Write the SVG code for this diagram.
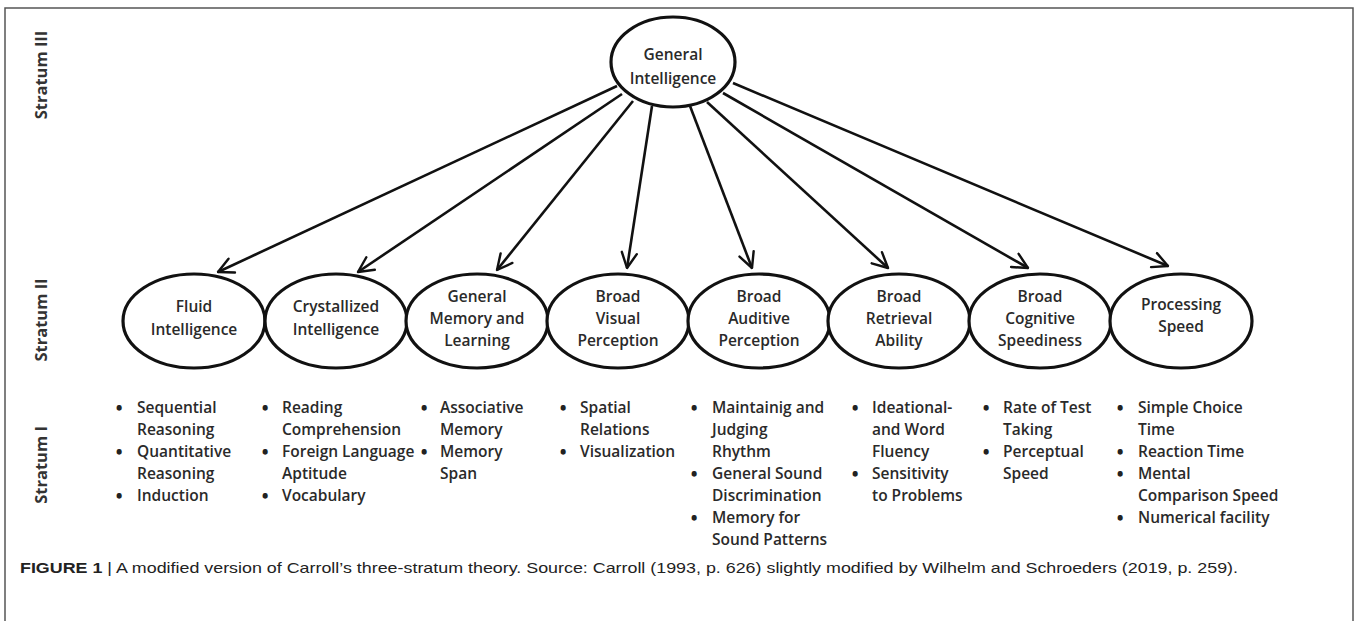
<svg xmlns="http://www.w3.org/2000/svg" width="1358" height="621" viewBox="0 0 1358 621">
<style>
.t{font-family:"Open Sans","Liberation Sans",sans-serif;font-size:15.5px;font-weight:600;fill:#2a2a2a;}
.c{text-anchor:middle;}
.b{font-family:"Open Sans","Liberation Sans",sans-serif;font-size:16px;font-weight:800;fill:#222;}
.lab{font-family:"Open Sans","Liberation Sans",sans-serif;font-size:16.5px;font-weight:700;fill:#333;text-anchor:middle;}
.node{fill:#fff;stroke:#111;stroke-width:3.2;}
.con{stroke:#111;stroke-width:2.6;fill:none;marker-end:url(#ah);}
.cap{font-family:"Liberation Sans",Arial,sans-serif;font-size:15px;fill:#222;}
</style>
<defs>
<marker id="ah" viewBox="0 0 12 12" refX="11" refY="6" markerWidth="7" markerHeight="7" markerUnits="strokeWidth" orient="auto">
<path d="M1,1 L11,6 L1,11" fill="none" stroke="#111" stroke-width="1.6" stroke-linecap="round" stroke-linejoin="round"/>
</marker>
</defs>
<rect width="1358" height="621" fill="#fff"/>
<rect x="5" y="8" width="1348" height="640" fill="none" stroke="#555" stroke-width="1.5"/>

<g id="stratum-labels">
<text class="lab" transform="translate(47,75) rotate(-90)">Stratum III</text>
<text class="lab" transform="translate(47,320) rotate(-90)">Stratum II</text>
<text class="lab" transform="translate(47,465) rotate(-90)">Stratum I</text>
</g>

<g id="connectors">
<line class="con" x1="617" y1="86" x2="218" y2="272"/>
<line class="con" x1="622" y1="94" x2="358" y2="272"/>
<line class="con" x1="633" y1="101" x2="497" y2="270"/>
<line class="con" x1="652" y1="106" x2="627" y2="268"/>
<line class="con" x1="690" y1="106" x2="752" y2="268"/>
<line class="con" x1="707" y1="102" x2="888" y2="268"/>
<line class="con" x1="723" y1="93" x2="1028" y2="268"/>
<line class="con" x1="733" y1="83" x2="1168" y2="266"/>
</g>

<g id="general-intelligence">
<ellipse class="node" cx="673" cy="62" rx="62" ry="45"/>
<text class="t c" x="673" y="60">General</text>
<text class="t c" x="673" y="84">Intelligence</text>
</g>

<g id="fluid">
<ellipse class="node" cx="194" cy="321" rx="71" ry="47"/>
<text class="t c" x="194" y="312">Fluid</text>
<text class="t c" x="194" y="335">Intelligence</text>
</g>
<g id="crystallized">
<ellipse class="node" cx="336" cy="321" rx="71" ry="47"/>
<text class="t c" x="336" y="312">Crystallized</text>
<text class="t c" x="336" y="335">Intelligence</text>
</g>
<g id="memory">
<ellipse class="node" cx="477" cy="321" rx="71" ry="47"/>
<text class="t c" x="477" y="302">General</text>
<text class="t c" x="477" y="324">Memory and</text>
<text class="t c" x="477" y="346">Learning</text>
</g>
<g id="visual">
<ellipse class="node" cx="618" cy="321" rx="71" ry="47"/>
<text class="t c" x="618" y="302">Broad</text>
<text class="t c" x="618" y="324">Visual</text>
<text class="t c" x="618" y="346">Perception</text>
</g>
<g id="auditive">
<ellipse class="node" cx="759" cy="321" rx="71" ry="47"/>
<text class="t c" x="759" y="302">Broad</text>
<text class="t c" x="759" y="324">Auditive</text>
<text class="t c" x="759" y="346">Perception</text>
</g>
<g id="retrieval">
<ellipse class="node" cx="899" cy="321" rx="71" ry="47"/>
<text class="t c" x="899" y="302">Broad</text>
<text class="t c" x="899" y="324">Retrieval</text>
<text class="t c" x="899" y="346">Ability</text>
</g>
<g id="cognitive">
<ellipse class="node" cx="1040" cy="321" rx="71" ry="47"/>
<text class="t c" x="1040" y="302">Broad</text>
<text class="t c" x="1040" y="324">Cognitive</text>
<text class="t c" x="1040" y="346">Speediness</text>
</g>
<g id="processing">
<ellipse class="node" cx="1181" cy="321" rx="71" ry="47"/>
<text class="t c" x="1181" y="310">Processing</text>
<text class="t c" x="1181" y="332">Speed</text>
</g>

<g id="stratum1-fluid">
<text class="b" x="116" y="414">•</text><text class="t" x="137" y="413">Sequential</text>
<text class="t" x="137" y="435">Reasoning</text>
<text class="b" x="116" y="458">•</text><text class="t" x="137" y="457">Quantitative</text>
<text class="t" x="137" y="479">Reasoning</text>
<text class="b" x="116" y="502">•</text><text class="t" x="137" y="501">Induction</text>
</g>
<g id="stratum1-crystallized">
<text class="b" x="262" y="414">•</text><text class="t" x="282" y="413">Reading</text>
<text class="t" x="282" y="435">Comprehension</text>
<text class="b" x="262" y="458">•</text><text class="t" x="282" y="457">Foreign Language</text>
<text class="t" x="282" y="479">Aptitude</text>
<text class="b" x="262" y="502">•</text><text class="t" x="282" y="501">Vocabulary</text>
</g>
<g id="stratum1-memory">
<text class="b" x="421" y="414">•</text><text class="t" x="440" y="413">Associative</text>
<text class="t" x="440" y="435">Memory</text>
<text class="b" x="421" y="458">•</text><text class="t" x="440" y="457">Memory</text>
<text class="t" x="440" y="479">Span</text>
</g>
<g id="stratum1-visual">
<text class="b" x="560" y="414">•</text><text class="t" x="580" y="413">Spatial</text>
<text class="t" x="580" y="435">Relations</text>
<text class="b" x="560" y="458">•</text><text class="t" x="580" y="457">Visualization</text>
</g>
<g id="stratum1-auditive">
<text class="b" x="691" y="414">•</text><text class="t" x="712" y="413">Maintainig and</text>
<text class="t" x="712" y="435">Judging</text>
<text class="t" x="712" y="457">Rhythm</text>
<text class="b" x="691" y="480">•</text><text class="t" x="712" y="479">General Sound</text>
<text class="t" x="712" y="501">Discrimination</text>
<text class="b" x="691" y="524">•</text><text class="t" x="712" y="523">Memory for</text>
<text class="t" x="712" y="545">Sound Patterns</text>
</g>
<g id="stratum1-retrieval">
<text class="b" x="852" y="414">•</text><text class="t" x="872" y="413">Ideational-</text>
<text class="t" x="872" y="435">and Word</text>
<text class="t" x="872" y="457">Fluency</text>
<text class="b" x="852" y="480">•</text><text class="t" x="872" y="479">Sensitivity</text>
<text class="t" x="872" y="501">to Problems</text>
</g>
<g id="stratum1-cognitive">
<text class="b" x="983" y="414">•</text><text class="t" x="1003" y="413">Rate of Test</text>
<text class="t" x="1003" y="435">Taking</text>
<text class="b" x="983" y="458">•</text><text class="t" x="1003" y="457">Perceptual</text>
<text class="t" x="1003" y="479">Speed</text>
</g>
<g id="stratum1-processing">
<text class="b" x="1117" y="414">•</text><text class="t" x="1138" y="413">Simple Choice</text>
<text class="t" x="1138" y="435">Time</text>
<text class="b" x="1117" y="458">•</text><text class="t" x="1138" y="457">Reaction Time</text>
<text class="b" x="1117" y="480">•</text><text class="t" x="1138" y="479">Mental</text>
<text class="t" x="1138" y="501">Comparison Speed</text>
<text class="b" x="1117" y="524">•</text><text class="t" x="1138" y="523">Numerical facility</text>
</g>

<g id="caption">
<text class="cap" x="20" y="573" textLength="1218" lengthAdjust="spacingAndGlyphs"><tspan font-weight="bold">FIGURE 1</tspan> | A modified version of Carroll’s three-stratum theory. Source: Carroll (1993, p. 626) slightly modified by Wilhelm and Schroeders (2019, p. 259).</text>
</g>
</svg>
